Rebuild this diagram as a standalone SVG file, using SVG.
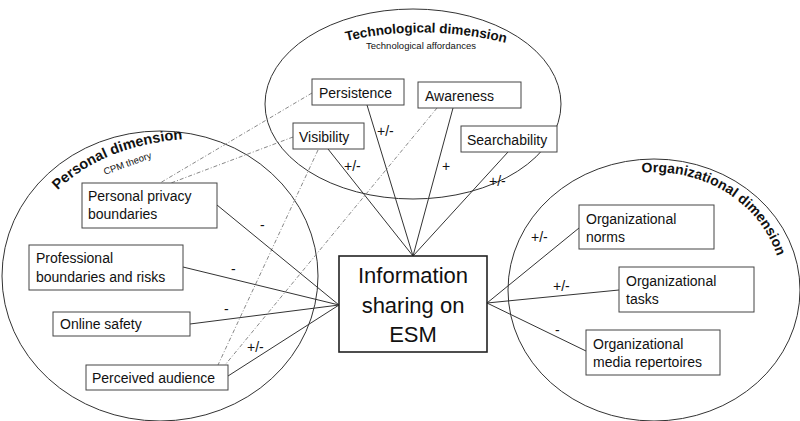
<svg xmlns="http://www.w3.org/2000/svg" width="800" height="421" viewBox="0 0 800 421">
<style>
  .dim { fill: none; stroke: #333; stroke-width: 1; }
  .box { fill: #fff; stroke: #444; stroke-width: 1; }
  .main { fill: #fff; stroke: #222; stroke-width: 1.6; }
  .t { font-family: "Liberation Sans", Arial, sans-serif; font-size: 14px; fill: #111; }
  .big { font-family: "Liberation Sans", Arial, sans-serif; font-size: 22px; fill: #111; }
  .title { font-family: "Liberation Sans", Arial, sans-serif; font-size: 14px; font-weight: bold; fill: #111; }
  .sub { font-family: "Liberation Sans", Arial, sans-serif; font-size: 9.5px; fill: #111; }
  .lbl { font-family: "Liberation Sans", Arial, sans-serif; font-size: 14px; fill: #111; }
  .solid { stroke: #333; stroke-width: 1; fill: none; }
  .dash { stroke: #888; stroke-width: 1; fill: none; stroke-dasharray: 4 2 1 2; }
</style>
<defs>
  <path id="pTech" d="M338,43 Q425,21 514,45"/>
  <path id="pPers" d="M52,196 Q98,146 184,139"/>
  <path id="pOrg" d="M632,174 A128,118 0 0 1 778,259"/>
</defs>
<rect width="800" height="421" fill="#fff"/>

<g id="tech-dimension">
  <ellipse class="dim" cx="413" cy="104" rx="148" ry="95"/>
  <text class="title" style="font-size:13.5px"><textPath href="#pTech" startOffset="50%" text-anchor="middle">Technological dimension</textPath></text>
  <text class="sub" x="421" y="49" text-anchor="middle" textLength="110">Technological affordances</text>
</g>
<g id="personal-dimension">
  <ellipse class="dim" cx="160" cy="276" rx="158" ry="145"/>
  <text class="title" style="font-size:14.5px"><textPath href="#pPers" startOffset="8">Personal dimension</textPath></text>
  <text class="sub" x="105" y="175" transform="rotate(-20 105 175)">CPM theory</text>
</g>
<g id="org-dimension">
  <ellipse class="dim" cx="654" cy="290" rx="146" ry="131"/>
  <text class="title"><textPath href="#pOrg" startOffset="10">Organizational dimension</textPath></text>
</g>

<g id="connectors">
  <line class="dash" x1="312" y1="93" x2="160" y2="183"/>
  <line class="dash" x1="293" y1="137" x2="171" y2="183"/>
  <line class="dash" x1="318" y1="150" x2="218" y2="365"/>
  <line class="dash" x1="437" y1="108" x2="225" y2="365"/>
  <line class="solid" x1="367" y1="105" x2="413" y2="256"/>
  <line class="solid" x1="453" y1="108" x2="413" y2="256"/>
  <line class="solid" x1="328" y1="149" x2="413" y2="256"/>
  <line class="solid" x1="508" y1="152" x2="413" y2="256"/>
  <line class="solid" x1="217" y1="205" x2="339" y2="305"/>
  <line class="solid" x1="183" y1="267" x2="339" y2="305"/>
  <line class="solid" x1="190" y1="324" x2="339" y2="305"/>
  <line class="solid" x1="228" y1="376" x2="339" y2="305"/>
  <line class="solid" x1="579" y1="228" x2="487" y2="303"/>
  <line class="solid" x1="619" y1="290" x2="487" y2="303"/>
  <line class="solid" x1="586" y1="351" x2="487" y2="303"/>
  <text class="lbl" x="377" y="136">+/-</text>
  <text class="lbl" x="344" y="171">+/-</text>
  <text class="lbl" x="442" y="171">+</text>
  <text class="lbl" x="489" y="186">+/-</text>
  <text class="lbl" x="260" y="230">-</text>
  <text class="lbl" x="231" y="274">-</text>
  <text class="lbl" x="224" y="314">-</text>
  <text class="lbl" x="247" y="352">+/-</text>
  <text class="lbl" x="531" y="242">+/-</text>
  <text class="lbl" x="553" y="291">+/-</text>
  <text class="lbl" x="555" y="335">-</text>
</g>

<g id="persistence">
  <rect class="box" x="312" y="79" width="92" height="26"/>
  <text class="t" x="319" y="98">Persistence</text>
</g>
<g id="awareness">
  <rect class="box" x="418" y="82" width="103" height="26"/>
  <text class="t" x="425" y="101">Awareness</text>
</g>
<g id="visibility">
  <rect class="box" x="293" y="123" width="71" height="26"/>
  <text class="t" x="299" y="142">Visibility</text>
</g>
<g id="searchability">
  <rect class="box" x="461" y="126" width="96" height="26"/>
  <text class="t" x="467" y="145">Searchability</text>
</g>

<g id="personal-privacy">
  <rect class="box" x="82" y="183" width="135" height="45"/>
  <text class="t" x="88" y="201">Personal privacy</text>
  <text class="t" x="88" y="219">boundaries</text>
</g>
<g id="professional">
  <rect class="box" x="29" y="245" width="154" height="45"/>
  <text class="t" x="36" y="263">Professional</text>
  <text class="t" x="36" y="282">boundaries and risks</text>
</g>
<g id="online-safety">
  <rect class="box" x="53" y="312" width="137" height="24"/>
  <text class="t" x="60" y="329">Online safety</text>
</g>
<g id="perceived-audience">
  <rect class="box" x="86" y="365" width="142" height="25"/>
  <text class="t" x="92" y="383">Perceived audience</text>
</g>

<g id="org-norms">
  <rect class="box" x="579" y="205" width="135" height="44"/>
  <text class="t" x="586" y="224">Organizational</text>
  <text class="t" x="586" y="242">norms</text>
</g>
<g id="org-tasks">
  <rect class="box" x="619" y="267" width="135" height="45"/>
  <text class="t" x="626" y="286">Organizational</text>
  <text class="t" x="626" y="304">tasks</text>
</g>
<g id="org-media">
  <rect class="box" x="586" y="330" width="134" height="45"/>
  <text class="t" x="593" y="349">Organizational</text>
  <text class="t" x="593" y="367">media repertoires</text>
</g>

<g id="info-sharing">
  <rect class="main" x="339" y="256" width="148" height="96"/>
  <text class="big" x="413" y="283" text-anchor="middle">Information</text>
  <text class="big" x="413" y="313" text-anchor="middle">sharing on</text>
  <text class="big" x="413" y="342" text-anchor="middle">ESM</text>
</g>
</svg>
